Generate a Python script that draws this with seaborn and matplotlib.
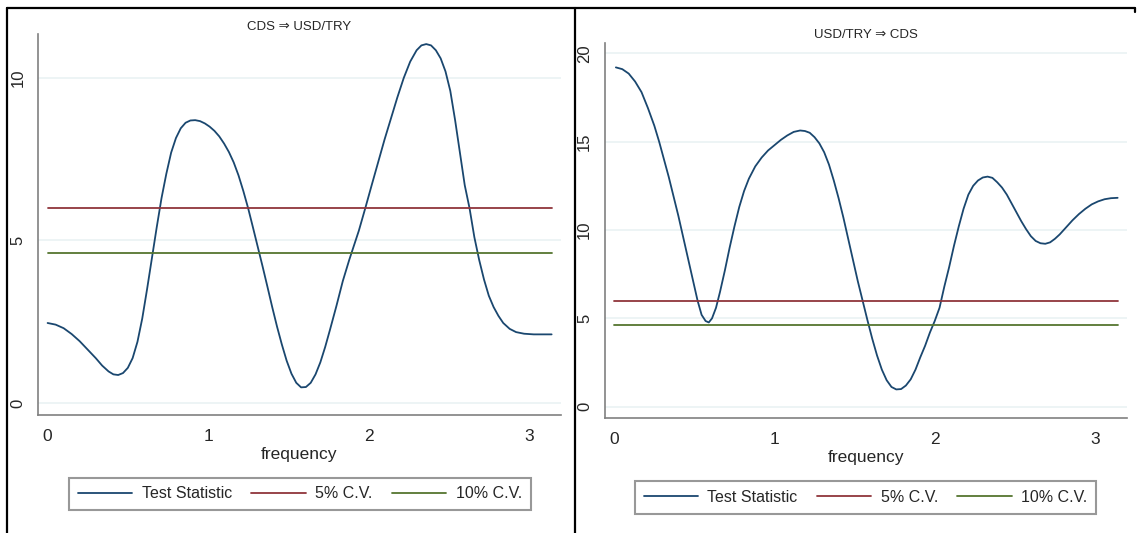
import matplotlib
matplotlib.use("Agg")
import matplotlib.pyplot as plt
import seaborn as sns
import pandas as pd
from matplotlib.lines import Line2D

# critical values (chi-square, 2 df)
cv5 = 5.99
cv10 = 4.61
cv_freq = [0.0, 3.1416]

# CDS => USD/TRY test statistic
left_freq = [0.00, 0.05, 0.10, 0.15, 0.20, 0.25, 0.30, 0.34, 0.38, 0.41, 0.44, 0.47, 0.50, 0.53,
             0.56, 0.59, 0.62, 0.65, 0.68, 0.71, 0.74, 0.77, 0.80, 0.83, 0.86, 0.89, 0.92, 0.95,
             0.98, 1.01, 1.04, 1.07, 1.10, 1.13, 1.16, 1.19, 1.22, 1.25, 1.28, 1.31, 1.34, 1.37,
             1.40, 1.43, 1.46, 1.49, 1.52, 1.55, 1.58, 1.61, 1.64, 1.67, 1.70, 1.73, 1.76, 1.80,
             1.84, 1.88, 1.90, 1.94, 1.98, 2.02, 2.06, 2.10, 2.14, 2.18, 2.22, 2.26, 2.30, 2.33,
             2.36, 2.39, 2.42, 2.45, 2.48, 2.51, 2.54, 2.57, 2.60, 2.63, 2.66, 2.69, 2.72, 2.75,
             2.78, 2.81, 2.84, 2.88, 2.92, 2.97, 3.03, 3.09, 3.1416]
left_stat = [2.46, 2.41, 2.30, 2.12, 1.90, 1.64, 1.38, 1.15, 0.97, 0.88, 0.86, 0.92, 1.08, 1.38,
             1.88, 2.60, 3.50, 4.45, 5.40, 6.30, 7.05, 7.70, 8.15, 8.45, 8.62, 8.69, 8.70, 8.67,
             8.60, 8.50, 8.37, 8.20, 7.98, 7.72, 7.40, 7.00, 6.52, 5.99, 5.40, 4.80, 4.20, 3.58,
             2.95, 2.35, 1.80, 1.30, 0.90, 0.62, 0.48, 0.49, 0.62, 0.88, 1.25, 1.72, 2.25, 2.98,
             3.75, 4.40, 4.70, 5.30, 5.99, 6.70, 7.40, 8.10, 8.75, 9.40, 10.00, 10.50, 10.85, 11.00,
             11.04, 11.00, 10.85, 10.60, 10.20, 9.60, 8.70, 7.70, 6.70, 5.99, 5.10, 4.40, 3.80, 3.30,
             2.95, 2.68, 2.46, 2.28, 2.18, 2.13, 2.11, 2.11, 2.11]

# USD/TRY => CDS test statistic
right_freq = [0.01, 0.05, 0.09, 0.13, 0.17, 0.21, 0.25, 0.28, 0.31, 0.34, 0.37, 0.40, 0.43, 0.46,
              0.49, 0.52, 0.545, 0.57, 0.59, 0.61, 0.635, 0.66, 0.69, 0.72, 0.75, 0.78, 0.81, 0.84,
              0.88, 0.92, 0.96, 1.00, 1.04, 1.08, 1.12, 1.16, 1.19, 1.22, 1.25, 1.28, 1.31, 1.34,
              1.37, 1.40, 1.43, 1.46, 1.49, 1.52, 1.55, 1.58, 1.61, 1.64, 1.67, 1.70, 1.73, 1.76,
              1.79, 1.82, 1.85, 1.88, 1.91, 1.94, 1.97, 2.00, 2.03, 2.06, 2.09, 2.12, 2.15, 2.18,
              2.21, 2.24, 2.27, 2.30, 2.33, 2.36, 2.39, 2.42, 2.45, 2.48, 2.51, 2.54, 2.57, 2.60,
              2.63, 2.66, 2.69, 2.72, 2.75, 2.78, 2.82, 2.86, 2.90, 2.94, 2.98, 3.02, 3.06, 3.10,
              3.1416]
right_stat = [19.20, 19.10, 18.85, 18.40, 17.80, 16.90, 15.90, 15.00, 14.00, 13.00, 11.90, 10.80, 9.60, 8.40,
              7.20, 6.00, 5.20, 4.85, 4.77, 5.00, 5.60, 6.50, 7.70, 9.00, 10.20, 11.30, 12.20, 12.90,
              13.60, 14.10, 14.50, 14.80, 15.10, 15.35, 15.55, 15.63, 15.60, 15.50, 15.25, 14.90, 14.40, 13.70,
              12.80, 11.80, 10.70, 9.50, 8.30, 7.10, 6.00, 4.90, 3.85, 2.90, 2.10, 1.50, 1.12, 0.98,
              1.00, 1.20, 1.55, 2.10, 2.80, 3.45, 4.20, 4.85, 5.60, 6.80, 7.90, 9.10, 10.20, 11.20,
              12.00, 12.50, 12.80, 12.97, 13.02, 12.95, 12.70, 12.40, 12.00, 11.50, 11.00, 10.50, 10.05, 9.65,
              9.38, 9.25, 9.22, 9.30, 9.50, 9.75, 10.15, 10.55, 10.90, 11.20, 11.45, 11.62, 11.74, 11.80,
              11.82]

panel_titles = ["CDS \u21d2 USD/TRY", "USD/TRY \u21d2 CDS"]
labels = ["Test Statistic", "5% C.V.", "10% C.V."]
colors = ["#1a476f", "#90353b", "#55752f"]

sns.set_style("white")
plt.rcParams['font.family'] = ['Liberation Sans', 'DejaVu Sans']

fig = plt.figure(figsize=(11.37, 5.33), dpi=100)
ax1 = fig.add_axes([0.0334, 0.2214, 0.46, 0.7148])
ax2 = fig.add_axes([0.5318, 0.215, 0.4594, 0.705])


def draw_panel(ax, freq, stat, title, ylim, yticks, legend_xy):
    df = pd.DataFrame({"frequency": freq, "stat": stat})
    sns.lineplot(data=df, x="frequency", y="stat", ax=ax, color=colors[0], lw=1.3,
                 label=labels[0])
    sns.lineplot(x=cv_freq, y=[cv5, cv5], ax=ax, color=colors[1], lw=1.3, label=labels[1])
    sns.lineplot(x=cv_freq, y=[cv10, cv10], ax=ax, color=colors[2], lw=1.3, label=labels[2])
    ax.set_xlim(-0.06, 3.2)
    ax.set_ylim(*ylim)
    ax.set_xticks([0, 1, 2, 3])
    ax.set_yticks(yticks)
    ax.set_yticklabels([str(t) for t in yticks], rotation=90, va="center")
    ax.grid(axis="y", color="#eaf2f3", lw=1.2)
    ax.set_axisbelow(True)
    for s in ["top", "right"]:
        ax.spines[s].set_visible(False)
    for s in ["left", "bottom"]:
        ax.spines[s].set_color("#808080")
        ax.spines[s].set_linewidth(1.2)
    ax.tick_params(axis="both", direction="out", length=6, width=1.1, color="#808080")
    ax.tick_params(axis="x", labelsize=12.5, pad=4)
    ax.tick_params(axis="y", labelsize=12, pad=3)
    ax.set_xlabel("frequency", fontsize=12.5, labelpad=2)
    ax.set_ylabel("")
    ax.set_title(title, fontsize=9.5, pad=3)
    leg = ax.legend(loc="center", bbox_to_anchor=legend_xy, bbox_transform=fig.transFigure,
                    ncol=3, fontsize=11.5, frameon=True, fancybox=False, handlelength=3.4,
                    columnspacing=1.2, handletextpad=0.6, borderpad=0.55, borderaxespad=0)
    leg.get_frame().set_edgecolor("#7f7f7f")
    leg.get_frame().set_linewidth(1.5)


draw_panel(ax1, left_freq, left_stat, panel_titles[0], (-0.37, 11.35), [0, 5, 10], (0.2639, 0.0732))
draw_panel(ax2, right_freq, right_stat, panel_titles[1], (-0.66, 20.6), [0, 5, 10, 15, 20], (0.7612, 0.0666))

# outer frame lines of the pasted panels
W, H = 1137, 533
for xs, ys in [([7, 1135], [8, 8]), ([7, 7], [8, 533]), ([575, 575], [8, 533]), ([1135, 1135], [8, 12])]:
    fig.add_artist(Line2D([x / W for x in xs], [1 - y / H for y in ys], color="black", lw=1.6,
                          transform=fig.transFigure))

fig.savefig("out.png", dpi=100)
